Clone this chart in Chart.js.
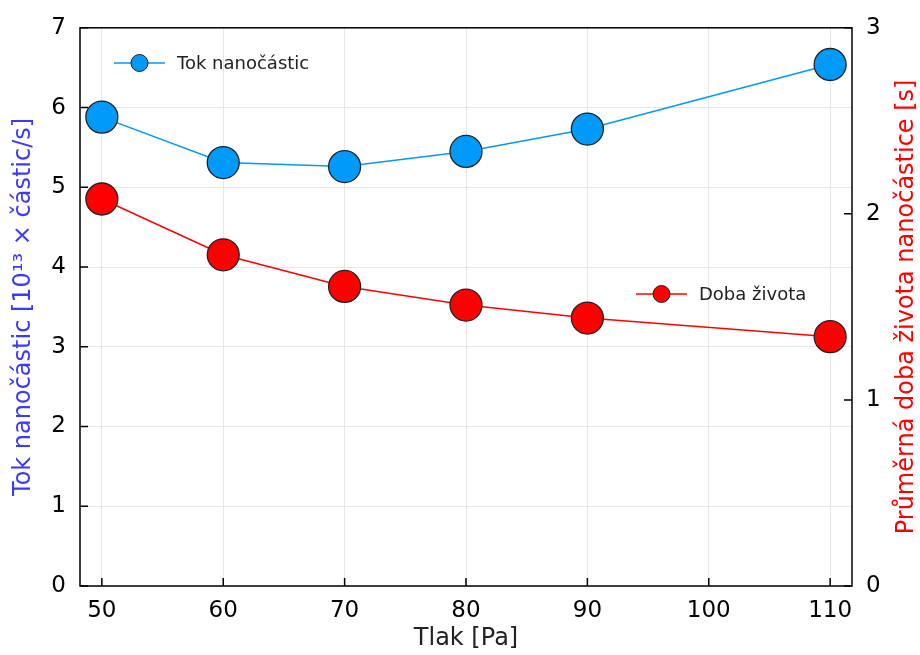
<!DOCTYPE html>
<html>
<head>
<meta charset="utf-8">
<script src="https://cdn.jsdelivr.net/npm/chart.js@4"></script>
<style>
  body { margin: 0; background: #fff; }
  #wrap { width: 920px; height: 655px; }
</style>
</head>
<body>
<div id="wrap"><canvas id="chart"></canvas></div>
<script>
// data
const pressure = [50, 60, 70, 80, 90, 110];
const flux = [5.88, 5.31, 5.26, 5.45, 5.73, 6.54];
const lifetime = [2.08, 1.78, 1.61, 1.51, 1.44, 1.34];

const xTicks = [50, 60, 70, 80, 90, 100, 110];
const yLeftTicks = [0, 1, 2, 3, 4, 5, 6, 7];
const yRightTicks = [0, 1, 2, 3];

const BLUE = '#009afa';
const RED = '#ff0000';
const FONT = 'DejaVu Sans';

const setTicks = arr => scale => { scale.ticks = arr.map(v => ({ value: v })); };

// frame, inner tick marks, legends, right title
const decor = {
    id: 'decor',
    beforeDatasetsDraw(chart) {
        const { ctx, chartArea: a, scales } = chart;
        ctx.save();
        ctx.strokeStyle = '#000';
        ctx.lineWidth = 1.5;
        ctx.beginPath();
        xTicks.forEach(v => {
            const p = scales.x.getPixelForValue(v);
            ctx.moveTo(p, a.bottom); ctx.lineTo(p, a.bottom - 8);
        });
        yLeftTicks.forEach(v => {
            const p = scales.y.getPixelForValue(v);
            ctx.moveTo(a.left, p); ctx.lineTo(a.left + 8, p);
        });
        yRightTicks.forEach(v => {
            const p = scales.y2.getPixelForValue(v);
            ctx.moveTo(a.right, p); ctx.lineTo(a.right - 8, p);
        });
        ctx.stroke();
        ctx.strokeRect(a.left, a.top, a.right - a.left, a.bottom - a.top);
        ctx.restore();
    },
    afterDraw(chart) {
        const { ctx, chartArea: a } = chart;
        ctx.save();
        // legends
        const legend = (x, y, color, text) => {
            ctx.strokeStyle = color;
            ctx.lineWidth = 1.5;
            ctx.beginPath();
            ctx.moveTo(x, y); ctx.lineTo(x + 51, y);
            ctx.stroke();
            ctx.beginPath();
            ctx.arc(x + 25.5, y, 8.5, 0, Math.PI * 2);
            ctx.fillStyle = color;
            ctx.fill();
            ctx.strokeStyle = '#222';
            ctx.lineWidth = 1;
            ctx.stroke();
            ctx.fillStyle = '#222';
            ctx.font = '18px ' + FONT;
            ctx.textBaseline = 'middle';
            ctx.textAlign = 'left';
            ctx.fillText(text, x + 63, y + 1);
        };
        legend(114, 63, BLUE, 'Tok nanočástic');
        legend(636, 294, RED, 'Doba života');

        // right axis title, reading bottom-up
        ctx.translate(907, (a.top + a.bottom) / 2);
        ctx.rotate(-Math.PI / 2);
        ctx.fillStyle = RED;
        ctx.font = '24px ' + FONT;
        ctx.textAlign = 'center';
        ctx.textBaseline = 'middle';
        ctx.fillText('Průměrná doba života nanočástice [s]', 0, 0);
        ctx.restore();
    }
};

const tickFont = { family: FONT, size: 23 };

new Chart(document.getElementById('chart'), {
    type: 'line',
    data: {
        datasets: [
            {
                label: 'Tok nanočástic',
                data: pressure.map((p, i) => ({ x: p, y: flux[i] })),
                yAxisID: 'y',
                borderColor: BLUE,
                backgroundColor: BLUE,
                borderWidth: 1.5,
                pointRadius: 16,
                pointBorderColor: '#222',
                pointBorderWidth: 1.3,
                tension: 0
            },
            {
                label: 'Doba života',
                data: pressure.map((p, i) => ({ x: p, y: lifetime[i] })),
                yAxisID: 'y2',
                borderColor: RED,
                backgroundColor: RED,
                borderWidth: 1.5,
                pointRadius: 16,
                pointBorderColor: '#222',
                pointBorderWidth: 1.3,
                tension: 0
            }
        ]
    },
    options: {
        responsive: true,
        maintainAspectRatio: false,
        animation: false,
        layout: { padding: { top: 23, left: 0, right: 0, bottom: 0 } },
        plugins: {
            legend: { display: false },
            tooltip: { enabled: false }
        },
        scales: {
            x: {
                type: 'linear',
                min: 48.2,
                max: 111.8,
                afterBuildTicks: setTicks(xTicks),
                afterFit: s => { s.height = 69; },
                grid: { color: '#e6e6e6', drawTicks: false },
                border: { display: false },
                ticks: { color: '#000', font: tickFont, padding: 11, maxRotation: 0 },
                title: {
                    display: true,
                    text: 'Tlak [Pa]',
                    color: '#222',
                    font: { family: FONT, size: 24 },
                    padding: { top: 0, bottom: 2 }
                }
            },
            y: {
                position: 'left',
                min: 0,
                max: 7,
                afterBuildTicks: setTicks(yLeftTicks),
                afterFit: s => { s.width = 80; },
                grid: { color: '#e6e6e6', drawTicks: false },
                border: { display: false },
                ticks: { color: '#000', font: tickFont, padding: 14 },
                title: {
                    display: true,
                    text: 'Tok nanočástic [10¹³ × částic/s]',
                    color: '#3a3aff',
                    font: { family: FONT, size: 24 },
                    padding: { top: 9, bottom: 0 }
                }
            },
            y2: {
                position: 'right',
                min: 0,
                max: 3,
                afterBuildTicks: setTicks(yRightTicks),
                afterFit: s => { s.width = 68; },
                grid: { display: false, drawTicks: false },
                border: { display: false },
                ticks: { color: '#000', font: tickFont, padding: 14 }
            }
        }
    },
    plugins: [decor]
});
</script>
</body>
</html>
